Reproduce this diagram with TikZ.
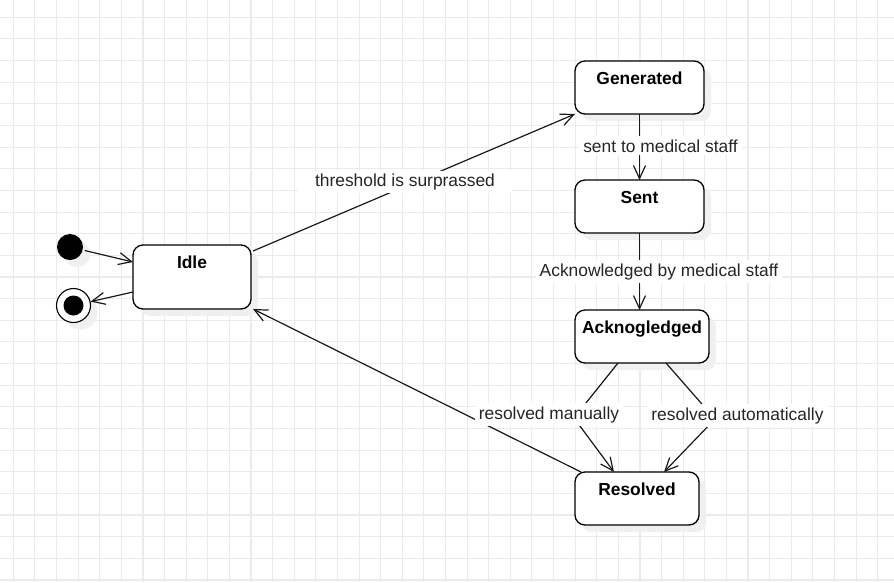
\documentclass[tikz,border=0pt]{standalone}
\usepackage{fontspec}
\setmainfont{Liberation Sans}
\usetikzlibrary{arrows.meta,shadows,calc}
\begin{document}
\begin{tikzpicture}[x=1pt,y=-1pt,
  gridline/.style={draw=black!8, line width=1.1pt},
  shade/.style={drop shadow={shadow xshift=7pt, shadow yshift=-7pt, fill=black!6, opacity=1}},
  statebox/.style={draw=black, line width=1.3pt, rounded corners=10pt, fill=white,
    anchor=north west, inner sep=0pt, outer sep=0pt, shade},
  stext/.style={font={\fontsize{17.4pt}{20pt}\selectfont\bfseries}, anchor=base, inner sep=0pt},
  elabel/.style={font={\fontsize{17.4pt}{20pt}\selectfont}, text=black!85, fill=white,
    anchor=base, inner xsep=4pt, inner ysep=3pt},
  conn/.style={draw=black!90, line width=1.2pt, -{Straight Barb[length=13pt,width=12pt]}}
]
\fill[white] (0,0) rectangle (894,582);
\useasboundingbox (0,0) rectangle (894,582);
\foreach \i in {0,...,40} \draw[gridline] ({13.3+21.61*\i},0) -- ({13.3+21.61*\i},582);
\foreach \j in {0,...,26} \draw[gridline] (0,{17.3+21.64*\j}) -- (894,{17.3+21.64*\j});

% states
\node[statebox, minimum width=118pt, minimum height=64pt] (idle) at (133,245) {};
\node[stext] (idleT) at ([yshift=-23pt]idle.north) {Idle};
\node[statebox, minimum width=129pt, minimum height=53pt] (gen) at (575,61) {};
\node[stext] (genT) at ([yshift=-23pt]gen.north) {Generated};
\node[statebox, minimum width=129pt, minimum height=53pt] (sent) at (575,180) {};
\node[stext] (sentT) at ([yshift=-23pt]sent.north) {Sent};
\node[statebox, minimum width=134pt, minimum height=53pt] (ack) at (575,310) {};
\node[stext] (ackT) at ([yshift=-23pt]ack.north) {Acknogledged};
\node[statebox, minimum width=124pt, minimum height=53pt] (res) at (575,472) {};
\node[stext] (resT) at ([yshift=-23pt]res.north) {Resolved};

% initial / final
\node[circle, fill=black, minimum size=26pt, inner sep=0pt, shade] (init) at (70,247) {};
\node[circle, draw=black, line width=1.1pt, fill=white, minimum size=34pt, inner sep=0pt, shade] (final) at (73.5,305.5) {};
\node[circle, fill=black, minimum size=20pt, inner sep=0pt] (finalDot) at (final.center) {};

% connectors
\draw[conn, shorten <=2pt] (init) -- ([yshift=15pt]idle.west);
\draw[conn] ([yshift=-15pt]idle.west) -- (final);
\draw[conn] ([xshift=2pt,yshift=-6pt]idle.north east) -- (gen.south west);
\draw[conn] (gen.south) -- (sent.north);
\draw[conn] (sent.south) -- (sent.south |- ack.north);
\coordinate (wpL) at (574,418);
\coordinate (wpR) at (715,419);
\draw[conn] ([xshift=-24pt]ack.south) -- (wpL) -- ([xshift=-23pt]res.north);
\draw[conn] ([xshift=24pt]ack.south) -- (wpR) -- ([xshift=27pt]res.north);
\draw[conn] ([xshift=6pt]res.north west) -- ([xshift=2pt]idle.south east);

% labels
\node[elabel, inner xsep=17pt] (l1) at (405,186.7) {threshold is surprassed};
\node[elabel] (l2) at (660.5,152) {sent to medical staff};
\node[elabel] (l3) at (659,276) {Acknowledged by medical staff};
\node[elabel] (l4) at (549,419) {resolved manually};
\node[elabel] (l5) at (737.5,420) {resolved automatically};
\end{tikzpicture}
\end{document}
